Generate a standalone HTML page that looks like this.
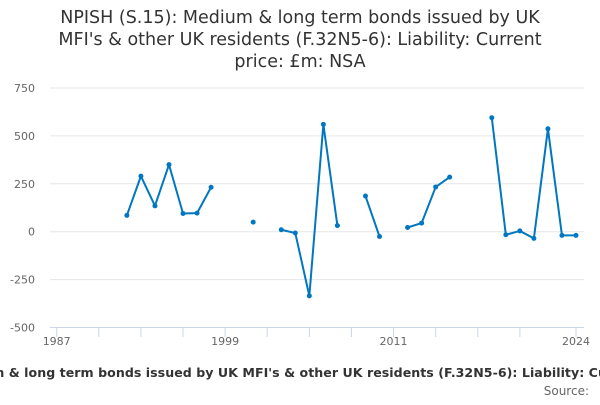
<!DOCTYPE html>
<html><head><meta charset="utf-8"><style>
body{margin:0;width:600px;height:400px;overflow:hidden;background:#fff;font-family:"Liberation Sans","DejaVu Sans",sans-serif}
</style></head><body>
<svg width="600" height="400" xmlns="http://www.w3.org/2000/svg">
<g font-family="DejaVu Sans, Liberation Sans, sans-serif" font-size="17.5" fill="#333" text-anchor="middle">
<text x="300" y="23">NPISH (S.15): Medium &amp; long term bonds issued by UK</text>
<text x="300" y="45">MFI's &amp; other UK residents (F.32N5-6): Liability: Current</text>
<text x="300" y="67">price: £m: NSA</text>
</g>
<g id="grid"></g>
<g id="yticks" font-family="DejaVu Sans, sans-serif" font-size="11" fill="#666" text-anchor="end"></g>
<line x1="50" x2="584" y1="327.5" y2="327.5" stroke="#ccd6eb"/>
<g id="xticks" font-family="DejaVu Sans, sans-serif" font-size="11" fill="#666" text-anchor="middle"></g>
<g id="series"></g>
<text x="300" y="377" text-anchor="middle" font-family="DejaVu Sans, sans-serif" font-size="12.6" letter-spacing="0.03" font-weight="bold" fill="#333">NPISH (S.15): Medium &amp; long term bonds issued by UK MFI's &amp; other UK residents (F.32N5-6): Liability: Current price: £m: NSA</text>
<text x="589" y="395" text-anchor="end" font-family="DejaVu Sans, sans-serif" font-size="12" fill="#666">Source:</text>
</svg>
<script>
const years=[1992,1993,1994,1995,1996,1997,1998,1999,2000,2001,2002,2003,2004,2005,2006,2007,2008,2009,2010,2011,2012,2013,2014,2015,2016,2017,2018,2019,2020,2021,2022,2023,2024];
const values=[85,290,135,350,95,97,232,null,null,50,null,10,-7,-335,560,32,null,186,-25,null,22,45,233,285,null,null,595,-16,4,-35,537,-19,-19];
const yTicks=[750,500,250,0,-250,-500];
const xLabels=[1987,1999,2011,2024];
const xTickYears=[1987,1990,1993,1996,1999,2002,2005,2008,2011,2014,2017,2020,2024];
const NS="http://www.w3.org/2000/svg";
const X=y=>56.7+(y-1987)*(576-56.7)/37;
const Y=v=>231.7-v*(239.5/1250);
function mk(t,a,p){const e=document.createElementNS(NS,t);for(const k in a)e.setAttribute(k,a[k]);p.appendChild(e);return e;}
const grid=document.getElementById('grid'),yt=document.getElementById('yticks'),xt=document.getElementById('xticks'),se=document.getElementById('series');
yTicks.forEach(v=>{
 if(v!==-500){const l=mk('line',{x1:50,x2:584,y1:Y(v),y2:Y(v),stroke:'#e6e6e6'},grid);
 
 }
 const t=mk('text',{x:35,y:Y(v)+4},yt);t.textContent=v;
 
 
});
xTickYears.forEach(y=>{const l=mk('line',{x1:X(y),x2:X(y),y1:327.5,y2:337,stroke:'#ccd6eb'},xt);
 
 });
xLabels.forEach(y=>{const t=mk('text',{x:X(y),y:345},xt);t.textContent=y;
 
 });
let seg=[];
function flush(){if(seg.length>1){const p=mk('polyline',{points:seg.map(q=>q.join(',')).join(' '),fill:'none',stroke:'#0077c0','stroke-width':2,'stroke-linejoin':'round'},se);
 
 }seg=[];}
years.forEach((y,i)=>{const v=values[i];if(v===null){flush();return;}seg.push([X(y),Y(v)]);});
flush();
years.forEach((y,i)=>{const v=values[i];if(v===null)return;const c=mk('circle',{cx:X(y),cy:Y(v),r:2.5,fill:'#0077c0'},se);
 
 });
</script>
</body></html>
